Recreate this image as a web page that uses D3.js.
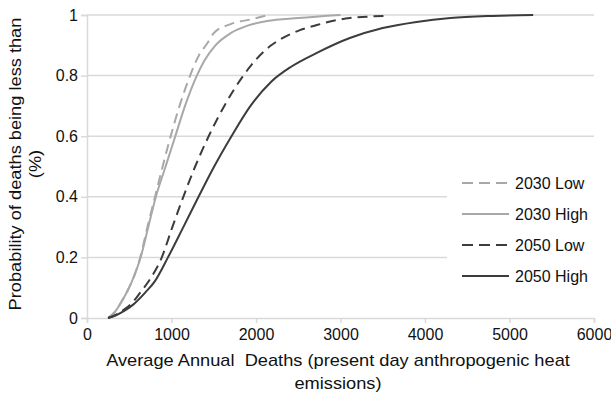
<!DOCTYPE html>
<html><head><meta charset="utf-8">
<script src="https://cdn.jsdelivr.net/npm/d3@7"></script>
<style>body{margin:0;background:#fff}svg{display:block}text{font-family:"Liberation Sans",Arial,sans-serif;fill:#111}</style>
</head><body><svg id="c" width="611" height="397"></svg>
<script>
const xTicks=[0,1000,2000,3000,4000,5000,6000];
const yTicks=[0,0.2,0.4,0.6,0.8,1];
const seriesNames=["2030 Low","2030 High","2050 Low","2050 High"];
const low2030=[[250,0],[330,0.02],[400,0.05],[480,0.09],[560,0.14],[630,0.2],[715,0.3],[805,0.4],[895,0.5],[990,0.6],[1095,0.7],[1220,0.8],[1330,0.87],[1420,0.905],[1500,0.94],[1700,0.97],[1930,0.985],[2150,1]];
const high2030=[[250,0],[330,0.02],[400,0.05],[480,0.09],[560,0.14],[635,0.2],[725,0.3],[815,0.4],[930,0.5],[1045,0.6],[1160,0.7],[1300,0.8],[1390,0.85],[1520,0.9],[1700,0.94],[1900,0.965],[2130,0.98],[2500,0.99],[3000,1]];
const low2050=[[250,0],[350,0.012],[450,0.03],[550,0.055],[627,0.083],[750,0.13],[885,0.2],[1010,0.3],[1140,0.4],[1280,0.5],[1440,0.6],[1625,0.7],[1850,0.8],[1990,0.85],[2180,0.9],[2290,0.92],[2520,0.95],[2720,0.967],[3110,0.99],[3560,0.997]];
const high2050=[[250,0],[350,0.01],[450,0.025],[550,0.045],[686,0.083],[800,0.12],[958,0.2],[1140,0.3],[1320,0.4],[1505,0.5],[1710,0.6],[1935,0.7],[2180,0.78],[2420,0.83],[2720,0.875],[3110,0.924],[3500,0.957],[3900,0.977],[4300,0.99],[4800,0.997],[5280,1]];
const data=[low2030,high2030,low2050,high2050];
const colors=["#a8a8a8","#a8a8a8","#3c3c3c","#3c3c3c"];
const dashes=["10,6",null,"10,6",null];

const svg=d3.select("#c");
const x=d3.scaleLinear().domain([0,6000]).range([87,594]);
const y=d3.scaleLinear().domain([0,1]).range([318,15]);

// gridlines
svg.append("g").selectAll("line").data(yTicks.filter(d=>d>0)).join("line")
 .attr("x1",x(0)).attr("x2",x(6000)).attr("y1",d=>y(d)).attr("y2",d=>y(d))
 .attr("stroke","#d9d9d9").attr("stroke-width",1.5);

// axes
const xa=svg.append("g").attr("transform",`translate(0,${y(0)})`)
 .call(d3.axisBottom(x).tickValues(xTicks).tickSize(5).tickPadding(6).tickFormat(d3.format("d")));
const ya=svg.append("g").attr("transform",`translate(${x(0)},0)`)
 .call(d3.axisLeft(y).tickValues(yTicks).tickSize(6).tickPadding(3).tickFormat(d=>d===0?"0":d===1?"1":d3.format(".1f")(d)));
[xa,ya].forEach(a=>{a.selectAll("path,line").attr("stroke","#d9d9d9").attr("stroke-width",1.5);
 a.selectAll("text").attr("font-size",16).style("fill","#111");});

// legend background
svg.append("rect").attr("x",447).attr("y",166).attr("width",160).attr("height",122).attr("fill","#fff");

const line=d3.line().x(d=>x(d[0])).y(d=>y(d[1])).curve(d3.curveMonotoneX);
svg.append("g").selectAll("path").data(data).join("path")
 .attr("d",line).attr("fill","none")
 .attr("stroke",(d,i)=>colors[i]).attr("stroke-width",2)
 .attr("stroke-dasharray",(d,i)=>dashes[i]);

// legend
const lg=svg.append("g");
const ly=[183,214,245,276];
seriesNames.forEach((n,i)=>{
 lg.append("line").attr("x1",462).attr("x2",509).attr("y1",ly[i]).attr("y2",ly[i])
  .attr("stroke",colors[i]).attr("stroke-width",2).attr("stroke-dasharray",dashes[i]?"11,6":null);
 lg.append("text").attr("x",515).attr("y",ly[i]+6).attr("font-size",16).text(n);
});

// axis titles
const xt=svg.append("g").attr("transform","translate(338,0) scale(1.14,1)");
xt.append("text").attr("x",0).attr("y",366).attr("text-anchor","middle").attr("font-size",16)
 .attr("xml:space","preserve").text("Average Annual  Deaths (present day anthropogenic heat");
xt.append("text").attr("x",0).attr("y",389).attr("text-anchor","middle").attr("font-size",16).text("emissions)");
const yt=svg.append("text").attr("transform","translate(0,164) rotate(-90) scale(1.14,1)").attr("text-anchor","middle").attr("font-size",16);
yt.append("tspan").attr("x",0).attr("y",21).text("Probability of deaths being less than");
yt.append("tspan").attr("x",0).attr("y",41).text("(%)");
</script></body></html>
